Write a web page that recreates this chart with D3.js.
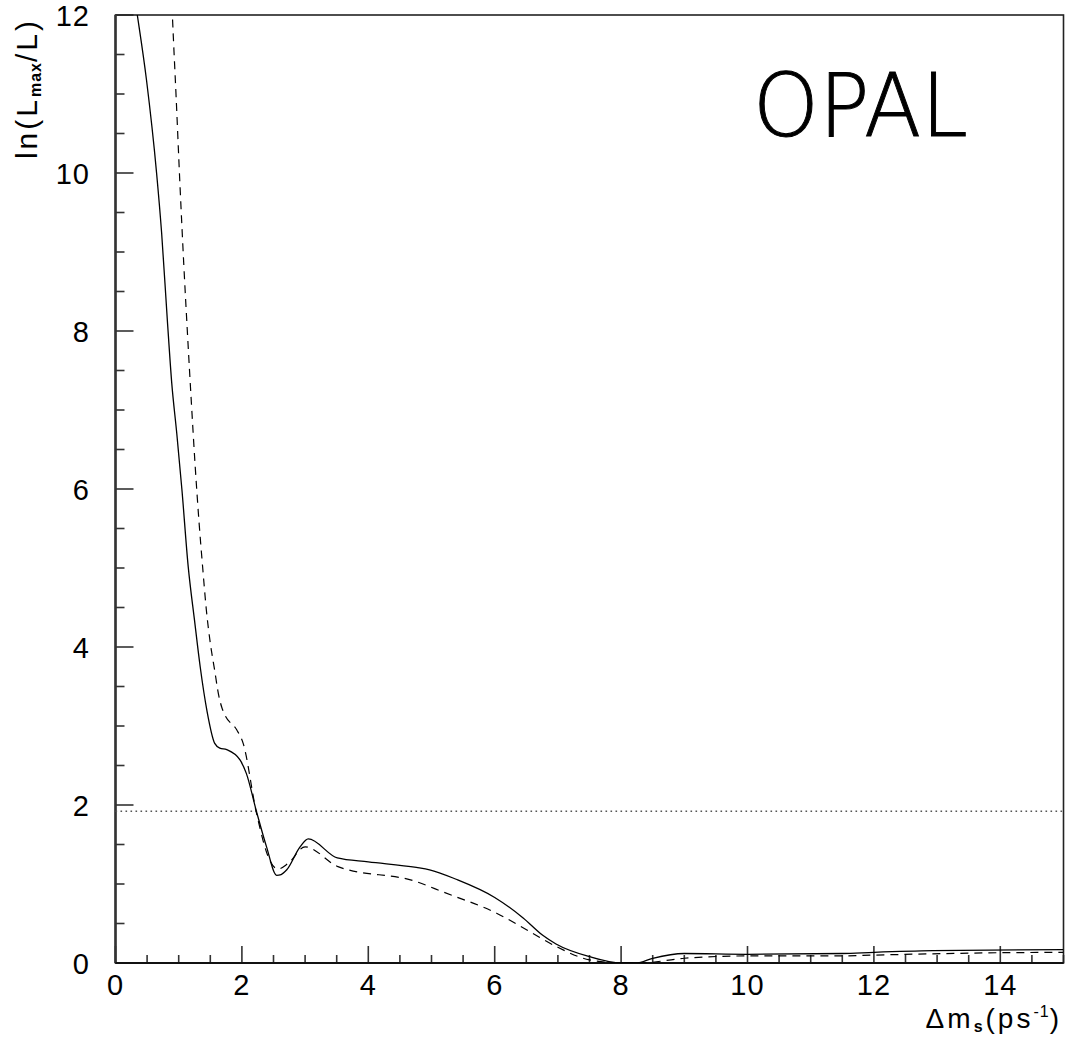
<!DOCTYPE html>
<html><head><meta charset="utf-8">
<script src="https://cdn.jsdelivr.net/npm/d3@7"></script>
<style>body{margin:0;background:#fff}svg{display:block}</style>
</head><body>
<svg id="c" width="1066" height="1042"></svg>
<script>
const xTicks = [0,2,4,6,8,10,12,14];
const yTicks = [0,2,4,6,8,10,12];
const solidX = [0.25,0.345,0.49,0.65,0.73,0.82,0.89,0.97,1.05,1.15,1.25,1.34,1.45,1.57,1.65,1.76,1.97,2.07,2.23,2.39,2.55,2.62,2.71,2.92,3.05,3.51,4.0,4.76,4.97,5.39,6.0,6.45,6.76,6.97,7.5,8.0,8.24,8.5,9.0,10.0,11.5,12.0,12.93,15];
const solidY = [12.5,12.0,11.18,10.0,9.24,8.14,7.34,6.70,6.0,5.02,4.34,3.75,3.18,2.78,2.72,2.70,2.57,2.40,1.92,1.47,1.11,1.12,1.18,1.47,1.57,1.33,1.28,1.21,1.18,1.06,0.83,0.57,0.35,0.24,0.08,0.0,0.0,0.06,0.12,0.11,0.12,0.135,0.156,0.17];
const dashX = [0.885,0.90,0.96,1.02,1.08,1.14,1.20,1.26,1.32,1.38,1.44,1.50,1.57,1.63,1.68,1.73,1.92,2.02,2.23,2.44,2.57,2.73,3.0,3.52,4.76,5.18,6.03,6.55,6.97,7.5,8.0,8.3,9.0,10.03,11.5,12,14,15];
const dashY = [12.3,12.0,10.95,9.85,8.85,7.95,7.1,6.3,5.6,5.0,4.45,4.05,3.7,3.4,3.24,3.14,2.95,2.78,1.90,1.30,1.19,1.26,1.47,1.22,1.03,0.90,0.63,0.40,0.21,0.04,0.0,0.0,0.06,0.09,0.09,0.10,0.13,0.135];
const limitLevel = 1.92;

const svg = d3.select("#c");
const L = 115.5, R = 1063.5, T = 15, B = 963;
const x = d3.scaleLinear().domain([0,15]).range([L,R]);
const y = d3.scaleLinear().domain([0,12]).range([B,T]);
const font = "'Liberation Sans', Arial, sans-serif";
const axCol = "#333";

svg.append("defs").append("clipPath").attr("id","clip")
  .append("rect").attr("x",L).attr("y",T).attr("width",R-L).attr("height",B-T);

// minor & major ticks
const g = svg.append("g");
d3.range(0,12.01,0.5).forEach(v=>{
  const major = Math.abs(v%2)<1e-6;
  g.append("line").attr("x1",L).attr("x2",L+(major?18:9)).attr("y1",y(v)).attr("y2",y(v))
   .attr("stroke",axCol).attr("stroke-width",1.6);
});
d3.range(0,15.01,0.5).forEach(v=>{
  const major = Math.abs(v%2)<1e-6;
  g.append("line").attr("y1",B).attr("y2",B-(major?17:8)).attr("x1",x(v)).attr("x2",x(v))
   .attr("stroke",axCol).attr("stroke-width",1.6);
});

// frame
svg.append("rect").attr("x",L).attr("y",T).attr("width",R-L).attr("height",B-T)
  .attr("fill","none").attr("stroke","#222").attr("stroke-width",1.6);
svg.append("line").attr("x1",L).attr("x2",L).attr("y1",T).attr("y2",B).attr("stroke","#333").attr("stroke-width",2.5);
svg.append("line").attr("x1",L).attr("x2",R).attr("y1",B).attr("y2",B).attr("stroke","#111").attr("stroke-width",2);

// tick labels
yTicks.forEach(v=>{
  svg.append("text").attr("x",90).attr("y",y(v)+11).attr("text-anchor","end")
    .attr("font-family",font).attr("font-size",29).attr("letter-spacing",1).attr("fill","#000").text(v);
});
xTicks.forEach(v=>{
  svg.append("text").attr("x",x(v)).attr("y",995).attr("text-anchor","middle")
    .attr("font-family",font).attr("font-size",29).attr("letter-spacing",1).attr("fill","#000").text(v);
});

// limit line
svg.append("line").attr("x1",L).attr("x2",R).attr("y1",y(limitLevel)).attr("y2",y(limitLevel))
  .attr("stroke","#555").attr("stroke-width",1.6).attr("stroke-dasharray","1.6,3.4");

const line = d3.line().x(d=>x(d[0])).y(d=>y(d[1])).curve(d3.curveMonotoneX);
const cg = svg.append("g").attr("clip-path","url(#clip)");
cg.append("path").attr("d",line(solidX.map((v,i)=>[v,solidY[i]])))
  .attr("fill","none").attr("stroke","#000").attr("stroke-width",1.3);
cg.append("path").attr("d",line(dashX.map((v,i)=>[v,dashY[i]])))
  .attr("fill","none").attr("stroke","#000").attr("stroke-width",1.2).attr("stroke-dasharray","8,6");

// y title
const yt = svg.append("text").attr("transform","translate(37,18) rotate(-90)")
  .attr("text-anchor","end").attr("font-family",font).attr("font-size",30).attr("letter-spacing",3).attr("fill","#000");
yt.append("tspan").text("ln(L");
yt.append("tspan").attr("font-size",16).attr("font-weight","bold").attr("letter-spacing",1).attr("dy",4).text("max");
yt.append("tspan").attr("dy",-4).text("/L)");

// x title
const xt = svg.append("text").attr("x",1062).attr("y",1028).attr("text-anchor","end")
  .attr("font-family",font).attr("font-size",28).attr("letter-spacing",3).attr("fill","#000");
xt.append("tspan").text("Δm");
xt.append("tspan").attr("font-size",16).attr("font-weight","bold").attr("dy",4).text("s");
xt.append("tspan").attr("dy",-4).text("(ps");
xt.append("tspan").attr("font-size",16).attr("letter-spacing",1).attr("dy",-11).text("-1");
xt.append("tspan").attr("dy",11).text(")");

// OPAL
svg.append("text").attr("x",753).attr("y",136).attr("font-family","'DejaVu Sans', sans-serif")
  .attr("font-weight",200).attr("font-size",88).attr("textLength",215).attr("lengthAdjust","spacingAndGlyphs")
  .attr("fill","#000").attr("stroke","#000").attr("stroke-width",1).text("OPAL");
</script>
</body></html>
